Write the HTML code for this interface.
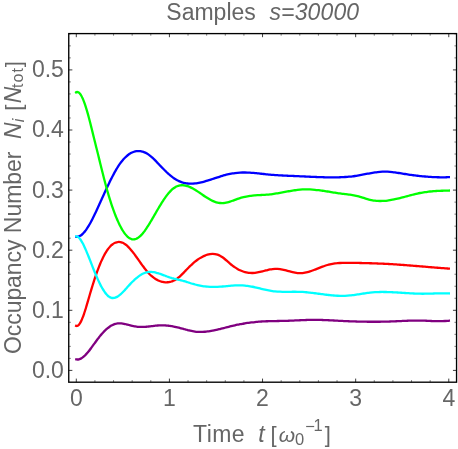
<!DOCTYPE html>
<html><head><meta charset="utf-8"><title>Samples s=30000</title>
<style>
html,body{margin:0;padding:0;background:#fff;}
svg{display:block;}
#txt{filter:grayscale(1);}
text{font-family:"Liberation Sans",sans-serif;fill:#666;white-space:pre;}
.it{font-style:italic;}
</style></head><body>
<svg width="458" height="449" viewBox="0 0 458 449">
<rect width="458" height="449" fill="#fff"/>
<g>
<path d="M75.20 236.51C75.41 236.56 76.03 236.74 76.45 236.78C76.87 236.82 77.28 236.80 77.70 236.74C78.12 236.68 78.53 236.57 78.95 236.42C79.37 236.27 79.78 236.06 80.20 235.82C80.62 235.58 81.03 235.29 81.45 234.97C81.87 234.65 82.28 234.28 82.70 233.88C83.12 233.48 83.53 233.03 83.95 232.56C84.37 232.09 84.78 231.58 85.20 231.04C85.62 230.50 86.03 229.92 86.45 229.32C86.87 228.72 87.28 228.09 87.70 227.43C88.12 226.78 88.53 226.09 88.95 225.39C89.37 224.68 89.78 223.95 90.20 223.20C90.62 222.45 91.03 221.67 91.45 220.88C91.87 220.09 92.28 219.28 92.70 218.45C93.12 217.62 93.53 216.77 93.95 215.92C94.37 215.06 94.78 214.20 95.20 213.32C95.62 212.44 96.03 211.56 96.45 210.66C96.87 209.76 97.28 208.86 97.70 207.95C98.12 207.04 98.53 206.13 98.95 205.21C99.37 204.29 99.78 203.37 100.20 202.45C100.62 201.53 101.03 200.61 101.45 199.69C101.87 198.77 102.28 197.84 102.70 196.92C103.12 196.00 103.53 195.08 103.95 194.17C104.37 193.26 104.78 192.35 105.20 191.44C105.62 190.53 106.03 189.62 106.45 188.73C106.87 187.83 107.28 186.95 107.70 186.07C108.12 185.19 108.53 184.31 108.95 183.45C109.37 182.58 109.78 181.72 110.20 180.88C110.62 180.03 111.03 179.20 111.45 178.38C111.87 177.56 112.28 176.75 112.70 175.96C113.12 175.17 113.53 174.38 113.95 173.61C114.37 172.84 114.78 172.10 115.20 171.36C115.62 170.62 116.03 169.90 116.45 169.20C116.87 168.50 117.28 167.82 117.70 167.16C118.12 166.50 118.53 165.85 118.95 165.23C119.37 164.61 119.78 164.01 120.20 163.43C120.62 162.85 121.03 162.30 121.45 161.76C121.87 161.22 122.28 160.71 122.70 160.21C123.12 159.72 123.53 159.24 123.95 158.79C124.37 158.34 124.78 157.90 125.20 157.49C125.62 157.08 126.03 156.68 126.45 156.31C126.87 155.94 127.28 155.58 127.70 155.25C128.12 154.92 128.53 154.61 128.95 154.32C129.37 154.03 129.78 153.75 130.20 153.50C130.62 153.25 131.03 153.01 131.45 152.80C131.87 152.59 132.28 152.39 132.70 152.22C133.12 152.05 133.53 151.89 133.95 151.76C134.37 151.62 134.78 151.51 135.20 151.41C135.62 151.31 136.03 151.23 136.45 151.17C136.87 151.11 137.28 151.07 137.70 151.05C138.12 151.03 138.53 151.03 138.95 151.04C139.37 151.05 139.78 151.09 140.20 151.14C140.62 151.19 141.03 151.26 141.45 151.35C141.87 151.44 142.28 151.54 142.70 151.67C143.12 151.79 143.53 151.94 143.95 152.10C144.37 152.26 144.78 152.44 145.20 152.63C145.62 152.82 146.03 153.03 146.45 153.26C146.87 153.49 147.28 153.74 147.70 154.00C148.12 154.26 148.53 154.54 148.95 154.84C149.37 155.14 149.78 155.45 150.20 155.78C150.62 156.11 151.03 156.45 151.45 156.81C151.87 157.17 152.28 157.55 152.70 157.94C153.12 158.33 153.53 158.74 153.95 159.15C154.37 159.56 154.78 159.98 155.20 160.41C155.62 160.84 156.03 161.27 156.45 161.71C156.87 162.15 157.28 162.60 157.70 163.04C158.12 163.48 158.53 163.92 158.95 164.36C159.37 164.80 159.78 165.23 160.20 165.67C160.62 166.11 161.03 166.55 161.45 166.98C161.87 167.41 162.28 167.83 162.70 168.26C163.12 168.69 163.53 169.11 163.95 169.53C164.37 169.95 164.78 170.35 165.20 170.76C165.62 171.16 166.03 171.56 166.45 171.96C166.87 172.36 167.28 172.75 167.70 173.13C168.12 173.51 168.53 173.88 168.95 174.25C169.37 174.62 169.78 174.98 170.20 175.33C170.62 175.68 171.03 176.02 171.45 176.35C171.87 176.68 172.28 177.00 172.70 177.31C173.12 177.62 173.53 177.92 173.95 178.21C174.37 178.50 174.78 178.78 175.20 179.05C175.62 179.32 176.03 179.57 176.45 179.81C176.87 180.05 177.28 180.28 177.70 180.49C178.12 180.71 178.53 180.91 178.95 181.10C179.37 181.29 179.78 181.47 180.20 181.64C180.62 181.81 181.03 181.97 181.45 182.11C181.87 182.26 182.28 182.39 182.70 182.51C183.12 182.63 183.53 182.75 183.95 182.85C184.37 182.95 184.78 183.04 185.20 183.12C185.62 183.20 186.03 183.28 186.45 183.34C186.87 183.40 187.28 183.45 187.70 183.50C188.12 183.55 188.57 183.58 188.95 183.61C189.33 183.64 189.41 183.65 190.00 183.66C190.59 183.67 191.67 183.68 192.50 183.65C193.33 183.62 194.17 183.55 195.00 183.46C195.83 183.37 196.67 183.25 197.50 183.11C198.33 182.97 199.17 182.81 200.00 182.63C200.83 182.45 201.67 182.25 202.50 182.04C203.33 181.83 204.17 181.59 205.00 181.35C205.83 181.11 206.67 180.86 207.50 180.60C208.33 180.34 209.17 180.07 210.00 179.80C210.83 179.53 211.67 179.25 212.50 178.97C213.33 178.69 214.17 178.41 215.00 178.13C215.83 177.85 216.67 177.58 217.50 177.31C218.33 177.04 219.17 176.78 220.00 176.53C220.83 176.28 221.67 176.03 222.50 175.79C223.33 175.55 224.17 175.33 225.00 175.11C225.83 174.89 226.67 174.68 227.50 174.49C228.33 174.30 229.17 174.12 230.00 173.95C230.83 173.78 231.67 173.62 232.50 173.48C233.33 173.34 234.17 173.21 235.00 173.10C235.83 172.99 236.67 172.88 237.50 172.80C238.33 172.72 239.17 172.66 240.00 172.61C240.83 172.56 241.67 172.53 242.50 172.51C243.33 172.49 244.17 172.49 245.00 172.50C245.83 172.51 246.67 172.53 247.50 172.56C248.33 172.59 249.17 172.64 250.00 172.69C250.83 172.74 251.67 172.80 252.50 172.86C253.33 172.93 254.17 173.00 255.00 173.08C255.83 173.16 256.67 173.24 257.50 173.33C258.33 173.42 259.17 173.51 260.00 173.60C260.83 173.69 261.67 173.79 262.50 173.88C263.33 173.97 264.17 174.06 265.00 174.15C265.83 174.24 266.67 174.33 267.50 174.41C268.33 174.49 269.17 174.57 270.00 174.65C270.83 174.73 271.67 174.79 272.50 174.86C273.33 174.93 274.17 174.99 275.00 175.05C275.83 175.11 276.67 175.17 277.50 175.22C278.33 175.27 279.17 175.31 280.00 175.36C280.83 175.41 281.67 175.46 282.50 175.50C283.33 175.54 284.17 175.58 285.00 175.62C285.83 175.66 286.67 175.69 287.50 175.73C288.33 175.77 289.17 175.81 290.00 175.84C290.83 175.88 291.67 175.91 292.50 175.94C293.33 175.97 294.17 176.01 295.00 176.05C295.83 176.09 296.67 176.12 297.50 176.16C298.33 176.20 299.17 176.24 300.00 176.28C300.83 176.32 301.67 176.36 302.50 176.40C303.33 176.44 304.17 176.47 305.00 176.51C305.83 176.55 306.67 176.59 307.50 176.63C308.33 176.67 309.17 176.71 310.00 176.75C310.83 176.79 311.67 176.83 312.50 176.86C313.33 176.90 314.17 176.93 315.00 176.96C315.83 176.99 316.67 177.03 317.50 177.06C318.33 177.09 319.17 177.12 320.00 177.15C320.83 177.18 321.67 177.20 322.50 177.22C323.33 177.24 324.17 177.26 325.00 177.28C325.83 177.30 326.67 177.32 327.50 177.33C328.33 177.34 329.17 177.35 330.00 177.36C330.83 177.37 331.67 177.37 332.50 177.37C333.33 177.37 334.17 177.36 335.00 177.35C335.83 177.34 336.67 177.34 337.50 177.32C338.33 177.30 339.17 177.28 340.00 177.25C340.83 177.22 341.67 177.19 342.50 177.15C343.33 177.11 344.17 177.06 345.00 177.01C345.83 176.96 346.67 176.90 347.50 176.83C348.33 176.76 349.17 176.68 350.00 176.60C350.83 176.52 351.67 176.43 352.50 176.33C353.33 176.23 354.17 176.12 355.00 176.00C355.83 175.88 356.67 175.75 357.50 175.61C358.33 175.47 359.17 175.32 360.00 175.17C360.83 175.02 361.67 174.86 362.50 174.70C363.33 174.54 364.17 174.38 365.00 174.22C365.83 174.06 366.67 173.89 367.50 173.73C368.33 173.57 369.17 173.41 370.00 173.26C370.83 173.11 371.67 172.96 372.50 172.82C373.33 172.68 374.17 172.55 375.00 172.43C375.83 172.31 376.67 172.19 377.50 172.09C378.33 171.99 379.17 171.91 380.00 171.84C380.83 171.77 381.67 171.71 382.50 171.67C383.33 171.63 384.17 171.62 385.00 171.62C385.83 171.62 386.67 171.64 387.50 171.68C388.33 171.72 389.17 171.78 390.00 171.85C390.83 171.92 391.67 172.00 392.50 172.10C393.33 172.19 394.17 172.30 395.00 172.42C395.83 172.53 396.67 172.66 397.50 172.79C398.33 172.92 399.17 173.06 400.00 173.19C400.83 173.32 401.67 173.46 402.50 173.60C403.33 173.74 404.17 173.88 405.00 174.01C405.83 174.14 406.67 174.28 407.50 174.41C408.33 174.54 409.17 174.66 410.00 174.78C410.83 174.90 411.67 175.02 412.50 175.13C413.33 175.24 414.17 175.36 415.00 175.46C415.83 175.56 416.67 175.66 417.50 175.76C418.33 175.86 419.17 175.95 420.00 176.04C420.83 176.13 421.67 176.22 422.50 176.30C423.33 176.38 424.17 176.45 425.00 176.52C425.83 176.59 426.67 176.66 427.50 176.72C428.33 176.78 429.17 176.84 430.00 176.89C430.83 176.94 431.67 177.00 432.50 177.04C433.33 177.08 434.17 177.12 435.00 177.15C435.83 177.18 436.67 177.21 437.50 177.23C438.33 177.25 439.17 177.27 440.00 177.28C440.83 177.29 441.67 177.30 442.50 177.30C443.33 177.30 444.17 177.29 445.00 177.28C445.83 177.27 446.67 177.24 447.50 177.22C448.33 177.20 449.58 177.15 450.00 177.14" fill="none" stroke="#0000ff" stroke-width="2.3" stroke-linecap="butt" stroke-linejoin="round"/>
<path d="M75.20 325.29C75.41 325.40 76.03 325.89 76.45 325.96C76.87 326.03 77.28 325.94 77.70 325.72C78.12 325.50 78.53 325.13 78.95 324.65C79.37 324.17 79.78 323.56 80.20 322.86C80.62 322.16 81.03 321.32 81.45 320.42C81.87 319.52 82.28 318.51 82.70 317.44C83.12 316.37 83.53 315.21 83.95 314.01C84.37 312.81 84.78 311.53 85.20 310.22C85.62 308.91 86.03 307.54 86.45 306.16C86.87 304.78 87.28 303.35 87.70 301.92C88.12 300.50 88.53 299.05 88.95 297.61C89.37 296.17 89.78 294.72 90.20 293.30C90.62 291.88 91.03 290.47 91.45 289.09C91.87 287.70 92.28 286.33 92.70 284.99C93.12 283.65 93.53 282.33 93.95 281.04C94.37 279.75 94.78 278.47 95.20 277.23C95.62 275.99 96.03 274.77 96.45 273.59C96.87 272.40 97.28 271.25 97.70 270.12C98.12 269.00 98.53 267.90 98.95 266.84C99.37 265.78 99.78 264.74 100.20 263.74C100.62 262.74 101.03 261.78 101.45 260.85C101.87 259.92 102.28 259.02 102.70 258.16C103.12 257.30 103.53 256.47 103.95 255.68C104.37 254.89 104.78 254.13 105.20 253.41C105.62 252.69 106.03 252.01 106.45 251.36C106.87 250.71 107.28 250.10 107.70 249.52C108.12 248.94 108.53 248.39 108.95 247.88C109.37 247.37 109.78 246.89 110.20 246.45C110.62 246.01 111.03 245.60 111.45 245.23C111.87 244.85 112.28 244.51 112.70 244.20C113.12 243.89 113.53 243.62 113.95 243.37C114.37 243.12 114.78 242.91 115.20 242.73C115.62 242.55 116.03 242.40 116.45 242.28C116.87 242.16 117.28 242.08 117.70 242.02C118.12 241.97 118.53 241.94 118.95 241.95C119.37 241.96 119.78 242.00 120.20 242.06C120.62 242.12 121.03 242.22 121.45 242.34C121.87 242.47 122.28 242.63 122.70 242.81C123.12 242.99 123.53 243.20 123.95 243.44C124.37 243.68 124.78 243.95 125.20 244.25C125.62 244.55 126.03 244.87 126.45 245.22C126.87 245.57 127.28 245.94 127.70 246.34C128.12 246.74 128.53 247.16 128.95 247.59C129.37 248.03 129.78 248.48 130.20 248.95C130.62 249.42 131.03 249.91 131.45 250.42C131.87 250.92 132.28 251.45 132.70 251.98C133.12 252.51 133.53 253.06 133.95 253.61C134.37 254.16 134.78 254.72 135.20 255.29C135.62 255.86 136.03 256.45 136.45 257.03C136.87 257.61 137.28 258.20 137.70 258.79C138.12 259.38 138.53 259.97 138.95 260.56C139.37 261.15 139.78 261.74 140.20 262.33C140.62 262.92 141.03 263.51 141.45 264.09C141.87 264.67 142.28 265.24 142.70 265.81C143.12 266.38 143.53 266.94 143.95 267.49C144.37 268.04 144.78 268.58 145.20 269.11C145.62 269.64 146.03 270.16 146.45 270.66C146.87 271.16 147.28 271.64 147.70 272.11C148.12 272.58 148.53 273.04 148.95 273.47C149.37 273.91 149.78 274.32 150.20 274.72C150.62 275.12 151.03 275.51 151.45 275.88C151.87 276.25 152.28 276.60 152.70 276.94C153.12 277.28 153.53 277.60 153.95 277.90C154.37 278.20 154.78 278.49 155.20 278.76C155.62 279.03 156.03 279.29 156.45 279.53C156.87 279.77 157.28 280.00 157.70 280.21C158.12 280.42 158.53 280.60 158.95 280.78C159.37 280.96 159.78 281.12 160.20 281.27C160.62 281.42 161.03 281.55 161.45 281.66C161.87 281.78 162.28 281.88 162.70 281.96C163.12 282.04 163.53 282.12 163.95 282.17C164.37 282.22 164.78 282.26 165.20 282.28C165.62 282.30 166.03 282.31 166.45 282.31C166.87 282.31 167.28 282.29 167.70 282.25C168.12 282.21 168.53 282.16 168.95 282.09C169.37 282.02 169.78 281.95 170.20 281.85C170.62 281.75 171.03 281.65 171.45 281.52C171.87 281.39 172.28 281.25 172.70 281.08C173.12 280.91 173.53 280.73 173.95 280.53C174.37 280.33 174.78 280.12 175.20 279.88C175.62 279.64 176.03 279.39 176.45 279.11C176.87 278.83 177.28 278.54 177.70 278.22C178.12 277.90 178.53 277.56 178.95 277.21C179.37 276.86 179.78 276.49 180.20 276.11C180.62 275.73 181.03 275.33 181.45 274.92C181.87 274.51 182.28 274.10 182.70 273.68C183.12 273.26 183.53 272.83 183.95 272.40C184.37 271.97 184.78 271.53 185.20 271.09C185.62 270.65 186.03 270.21 186.45 269.78C186.87 269.34 187.28 268.91 187.70 268.48C188.12 268.05 188.57 267.59 188.95 267.21C189.33 266.82 189.41 266.73 190.00 266.17C190.59 265.61 191.67 264.58 192.50 263.84C193.33 263.10 194.17 262.38 195.00 261.71C195.83 261.04 196.67 260.40 197.50 259.80C198.33 259.20 199.17 258.64 200.00 258.13C200.83 257.62 201.67 257.14 202.50 256.71C203.33 256.28 204.17 255.90 205.00 255.57C205.83 255.24 206.67 254.95 207.50 254.72C208.33 254.49 209.17 254.31 210.00 254.18C210.83 254.06 211.67 253.98 212.50 253.97C213.33 253.96 214.17 254.01 215.00 254.13C215.83 254.25 216.67 254.43 217.50 254.70C218.33 254.97 219.17 255.32 220.00 255.75C220.83 256.18 221.67 256.72 222.50 257.30C223.33 257.88 224.17 258.56 225.00 259.24C225.83 259.92 226.67 260.66 227.50 261.38C228.33 262.10 229.17 262.84 230.00 263.54C230.83 264.24 231.67 264.93 232.50 265.56C233.33 266.19 234.17 266.78 235.00 267.34C235.83 267.89 236.67 268.41 237.50 268.89C238.33 269.37 239.17 269.80 240.00 270.19C240.83 270.58 241.67 270.94 242.50 271.25C243.33 271.56 244.17 271.83 245.00 272.06C245.83 272.29 246.67 272.48 247.50 272.63C248.33 272.78 249.17 272.88 250.00 272.94C250.83 273.00 251.67 273.03 252.50 273.01C253.33 272.99 254.17 272.92 255.00 272.83C255.83 272.74 256.67 272.61 257.50 272.46C258.33 272.31 259.17 272.12 260.00 271.93C260.83 271.74 261.67 271.53 262.50 271.32C263.33 271.11 264.17 270.88 265.00 270.67C265.83 270.46 266.67 270.24 267.50 270.04C268.33 269.84 269.17 269.64 270.00 269.48C270.83 269.32 271.67 269.17 272.50 269.06C273.33 268.95 274.17 268.85 275.00 268.81C275.83 268.77 276.67 268.77 277.50 268.81C278.33 268.85 279.17 268.94 280.00 269.06C280.83 269.18 281.67 269.34 282.50 269.51C283.33 269.68 284.17 269.89 285.00 270.10C285.83 270.31 286.67 270.54 287.50 270.77C288.33 271.00 289.17 271.23 290.00 271.45C290.83 271.67 291.67 271.90 292.50 272.10C293.33 272.30 294.17 272.49 295.00 272.64C295.83 272.79 296.67 272.93 297.50 273.02C298.33 273.11 299.17 273.17 300.00 273.18C300.83 273.19 301.67 273.14 302.50 273.06C303.33 272.98 304.17 272.86 305.00 272.70C305.83 272.54 306.67 272.35 307.50 272.13C308.33 271.91 309.17 271.66 310.00 271.40C310.83 271.13 311.67 270.84 312.50 270.54C313.33 270.24 314.17 269.91 315.00 269.59C315.83 269.27 316.67 268.93 317.50 268.60C318.33 268.27 319.17 267.93 320.00 267.60C320.83 267.27 321.67 266.95 322.50 266.64C323.33 266.33 324.17 266.03 325.00 265.76C325.83 265.49 326.67 265.22 327.50 264.99C328.33 264.76 329.17 264.55 330.00 264.36C330.83 264.17 331.67 264.00 332.50 263.85C333.33 263.70 334.17 263.58 335.00 263.47C335.83 263.36 336.67 263.26 337.50 263.18C338.33 263.10 339.17 263.03 340.00 262.98C340.83 262.93 341.67 262.89 342.50 262.86C343.33 262.83 344.17 262.81 345.00 262.80C345.83 262.79 346.67 262.78 347.50 262.78C348.33 262.78 349.17 262.79 350.00 262.80C350.83 262.81 351.67 262.82 352.50 262.84C353.33 262.85 354.17 262.88 355.00 262.89C355.83 262.90 356.67 262.91 357.50 262.93C358.33 262.95 359.17 262.97 360.00 262.99C360.83 263.01 361.67 263.02 362.50 263.04C363.33 263.06 364.17 263.08 365.00 263.10C365.83 263.12 366.67 263.14 367.50 263.16C368.33 263.18 369.17 263.21 370.00 263.23C370.83 263.25 371.67 263.28 372.50 263.30C373.33 263.32 374.17 263.35 375.00 263.38C375.83 263.41 376.67 263.45 377.50 263.48C378.33 263.51 379.17 263.54 380.00 263.57C380.83 263.60 381.67 263.64 382.50 263.68C383.33 263.72 384.17 263.76 385.00 263.80C385.83 263.84 386.67 263.88 387.50 263.93C388.33 263.98 389.17 264.02 390.00 264.07C390.83 264.12 391.67 264.17 392.50 264.22C393.33 264.27 394.17 264.32 395.00 264.38C395.83 264.44 396.67 264.49 397.50 264.55C398.33 264.61 399.17 264.67 400.00 264.73C400.83 264.79 401.67 264.85 402.50 264.91C403.33 264.97 404.17 265.04 405.00 265.10C405.83 265.16 406.67 265.23 407.50 265.29C408.33 265.36 409.17 265.42 410.00 265.49C410.83 265.56 411.67 265.62 412.50 265.69C413.33 265.76 414.17 265.82 415.00 265.89C415.83 265.96 416.67 266.03 417.50 266.10C418.33 266.17 419.17 266.24 420.00 266.31C420.83 266.38 421.67 266.45 422.50 266.52C423.33 266.59 424.17 266.65 425.00 266.72C425.83 266.79 426.67 266.86 427.50 266.93C428.33 267.00 429.17 267.07 430.00 267.14C430.83 267.21 431.67 267.27 432.50 267.34C433.33 267.41 434.17 267.47 435.00 267.54C435.83 267.61 436.67 267.68 437.50 267.74C438.33 267.81 439.17 267.87 440.00 267.93C440.83 267.99 441.67 268.06 442.50 268.12C443.33 268.18 444.17 268.24 445.00 268.30C445.83 268.36 446.67 268.42 447.50 268.48C448.33 268.54 449.58 268.62 450.00 268.65" fill="none" stroke="#ff0000" stroke-width="2.3" stroke-linecap="butt" stroke-linejoin="round"/>
<path d="M75.20 93.07C75.41 92.92 76.03 92.33 76.45 92.16C76.87 91.99 77.28 91.96 77.70 92.05C78.12 92.14 78.53 92.36 78.95 92.69C79.37 93.02 79.78 93.47 80.20 94.02C80.62 94.57 81.03 95.23 81.45 95.98C81.87 96.73 82.28 97.59 82.70 98.52C83.12 99.45 83.53 100.48 83.95 101.58C84.37 102.68 84.78 103.87 85.20 105.12C85.62 106.37 86.03 107.69 86.45 109.07C86.87 110.45 87.28 111.89 87.70 113.38C88.12 114.87 88.53 116.42 88.95 117.99C89.37 119.56 89.78 121.18 90.20 122.82C90.62 124.45 91.03 126.13 91.45 127.80C91.87 129.47 92.28 131.16 92.70 132.85C93.12 134.53 93.53 136.22 93.95 137.91C94.37 139.60 94.78 141.28 95.20 142.97C95.62 144.66 96.03 146.34 96.45 148.02C96.87 149.70 97.28 151.39 97.70 153.07C98.12 154.75 98.53 156.43 98.95 158.11C99.37 159.79 99.78 161.48 100.20 163.16C100.62 164.84 101.03 166.52 101.45 168.20C101.87 169.88 102.28 171.56 102.70 173.23C103.12 174.89 103.53 176.56 103.95 178.19C104.37 179.82 104.78 181.44 105.20 183.03C105.62 184.62 106.03 186.18 106.45 187.70C106.87 189.22 107.28 190.71 107.70 192.16C108.12 193.61 108.53 195.02 108.95 196.40C109.37 197.78 109.78 199.12 110.20 200.44C110.62 201.75 111.03 203.04 111.45 204.29C111.87 205.54 112.28 206.75 112.70 207.94C113.12 209.13 113.53 210.28 113.95 211.41C114.37 212.54 114.78 213.64 115.20 214.71C115.62 215.78 116.03 216.81 116.45 217.82C116.87 218.82 117.28 219.80 117.70 220.74C118.12 221.68 118.53 222.60 118.95 223.48C119.37 224.36 119.78 225.21 120.20 226.02C120.62 226.83 121.03 227.61 121.45 228.35C121.87 229.09 122.28 229.80 122.70 230.48C123.12 231.16 123.53 231.80 123.95 232.40C124.37 233.00 124.78 233.56 125.20 234.09C125.62 234.62 126.03 235.12 126.45 235.57C126.87 236.02 127.28 236.43 127.70 236.81C128.12 237.19 128.53 237.53 128.95 237.83C129.37 238.13 129.78 238.38 130.20 238.60C130.62 238.82 131.03 239.00 131.45 239.13C131.87 239.26 132.28 239.36 132.70 239.41C133.12 239.46 133.53 239.47 133.95 239.44C134.37 239.41 134.78 239.33 135.20 239.22C135.62 239.11 136.03 238.95 136.45 238.76C136.87 238.57 137.28 238.33 137.70 238.07C138.12 237.81 138.53 237.52 138.95 237.19C139.37 236.86 139.78 236.50 140.20 236.11C140.62 235.72 141.03 235.29 141.45 234.85C141.87 234.41 142.28 233.94 142.70 233.44C143.12 232.94 143.53 232.42 143.95 231.88C144.37 231.34 144.78 230.77 145.20 230.19C145.62 229.61 146.03 229.01 146.45 228.39C146.87 227.77 147.28 227.14 147.70 226.49C148.12 225.84 148.53 225.17 148.95 224.50C149.37 223.83 149.78 223.14 150.20 222.45C150.62 221.76 151.03 221.05 151.45 220.34C151.87 219.63 152.28 218.91 152.70 218.19C153.12 217.47 153.53 216.75 153.95 216.03C154.37 215.31 154.78 214.57 155.20 213.85C155.62 213.12 156.03 212.40 156.45 211.68C156.87 210.96 157.28 210.24 157.70 209.53C158.12 208.82 158.53 208.12 158.95 207.42C159.37 206.72 159.78 206.03 160.20 205.34C160.62 204.66 161.03 203.97 161.45 203.31C161.87 202.65 162.28 201.99 162.70 201.35C163.12 200.71 163.53 200.07 163.95 199.45C164.37 198.83 164.78 198.22 165.20 197.63C165.62 197.04 166.03 196.47 166.45 195.91C166.87 195.35 167.28 194.80 167.70 194.28C168.12 193.76 168.53 193.25 168.95 192.77C169.37 192.29 169.78 191.81 170.20 191.37C170.62 190.93 171.03 190.50 171.45 190.10C171.87 189.70 172.28 189.33 172.70 188.98C173.12 188.63 173.53 188.30 173.95 188.00C174.37 187.70 174.78 187.44 175.20 187.19C175.62 186.94 176.03 186.72 176.45 186.52C176.87 186.32 177.28 186.15 177.70 186.00C178.12 185.85 178.53 185.72 178.95 185.62C179.37 185.52 179.78 185.43 180.20 185.37C180.62 185.31 181.03 185.26 181.45 185.24C181.87 185.22 182.28 185.21 182.70 185.23C183.12 185.25 183.53 185.28 183.95 185.33C184.37 185.38 184.78 185.44 185.20 185.52C185.62 185.60 186.03 185.71 186.45 185.82C186.87 185.93 187.28 186.06 187.70 186.20C188.12 186.34 188.57 186.51 188.95 186.66C189.33 186.81 189.41 186.82 190.00 187.10C190.59 187.38 191.67 187.89 192.50 188.34C193.33 188.79 194.17 189.28 195.00 189.78C195.83 190.28 196.67 190.82 197.50 191.37C198.33 191.92 199.17 192.49 200.00 193.06C200.83 193.63 201.67 194.21 202.50 194.78C203.33 195.35 204.17 195.93 205.00 196.48C205.83 197.03 206.67 197.57 207.50 198.09C208.33 198.61 209.17 199.11 210.00 199.57C210.83 200.03 211.67 200.47 212.50 200.85C213.33 201.23 214.17 201.58 215.00 201.87C215.83 202.16 216.67 202.40 217.50 202.59C218.33 202.78 219.17 202.91 220.00 202.99C220.83 203.07 221.67 203.11 222.50 203.09C223.33 203.07 224.17 203.01 225.00 202.90C225.83 202.79 226.67 202.61 227.50 202.41C228.33 202.21 229.17 201.95 230.00 201.68C230.83 201.41 231.67 201.10 232.50 200.79C233.33 200.48 234.17 200.15 235.00 199.83C235.83 199.51 236.67 199.19 237.50 198.89C238.33 198.59 239.17 198.32 240.00 198.06C240.83 197.80 241.67 197.56 242.50 197.35C243.33 197.13 244.17 196.95 245.00 196.77C245.83 196.59 246.67 196.43 247.50 196.29C248.33 196.15 249.17 196.02 250.00 195.91C250.83 195.80 251.67 195.71 252.50 195.62C253.33 195.53 254.17 195.47 255.00 195.40C255.83 195.33 256.67 195.27 257.50 195.22C258.33 195.17 259.17 195.13 260.00 195.08C260.83 195.03 261.67 194.99 262.50 194.94C263.33 194.89 264.17 194.84 265.00 194.78C265.83 194.72 266.67 194.66 267.50 194.59C268.33 194.52 269.17 194.43 270.00 194.34C270.83 194.25 271.67 194.14 272.50 194.03C273.33 193.92 274.17 193.80 275.00 193.67C275.83 193.54 276.67 193.40 277.50 193.26C278.33 193.12 279.17 192.98 280.00 192.83C280.83 192.68 281.67 192.53 282.50 192.38C283.33 192.23 284.17 192.07 285.00 191.92C285.83 191.77 286.67 191.61 287.50 191.46C288.33 191.31 289.17 191.16 290.00 191.02C290.83 190.88 291.67 190.74 292.50 190.61C293.33 190.48 294.17 190.36 295.00 190.24C295.83 190.12 296.67 190.01 297.50 189.91C298.33 189.81 299.17 189.72 300.00 189.65C300.83 189.58 301.67 189.52 302.50 189.47C303.33 189.42 304.17 189.39 305.00 189.37C305.83 189.35 306.67 189.35 307.50 189.36C308.33 189.37 309.17 189.39 310.00 189.43C310.83 189.47 311.67 189.52 312.50 189.58C313.33 189.64 314.17 189.72 315.00 189.80C315.83 189.88 316.67 189.97 317.50 190.07C318.33 190.17 319.17 190.27 320.00 190.38C320.83 190.49 321.67 190.62 322.50 190.74C323.33 190.86 324.17 190.99 325.00 191.12C325.83 191.25 326.67 191.38 327.50 191.51C328.33 191.64 329.17 191.78 330.00 191.92C330.83 192.06 331.67 192.20 332.50 192.33C333.33 192.47 334.17 192.60 335.00 192.73C335.83 192.86 336.67 192.99 337.50 193.11C338.33 193.23 339.17 193.35 340.00 193.46C340.83 193.57 341.67 193.68 342.50 193.78C343.33 193.88 344.17 193.98 345.00 194.08C345.83 194.18 346.67 194.27 347.50 194.38C348.33 194.49 349.17 194.60 350.00 194.72C350.83 194.84 351.67 194.97 352.50 195.11C353.33 195.25 354.17 195.40 355.00 195.57C355.83 195.74 356.67 195.93 357.50 196.14C358.33 196.35 359.17 196.58 360.00 196.82C360.83 197.06 361.67 197.32 362.50 197.58C363.33 197.84 364.17 198.10 365.00 198.36C365.83 198.62 366.67 198.88 367.50 199.12C368.33 199.36 369.17 199.60 370.00 199.80C370.83 200.00 371.67 200.19 372.50 200.34C373.33 200.49 374.17 200.61 375.00 200.71C375.83 200.81 376.67 200.89 377.50 200.94C378.33 200.99 379.17 201.02 380.00 201.02C380.83 201.03 381.67 201.00 382.50 200.97C383.33 200.94 384.17 200.88 385.00 200.81C385.83 200.74 386.67 200.64 387.50 200.54C388.33 200.44 389.17 200.31 390.00 200.18C390.83 200.05 391.67 199.90 392.50 199.74C393.33 199.58 394.17 199.42 395.00 199.24C395.83 199.06 396.67 198.87 397.50 198.67C398.33 198.47 399.17 198.27 400.00 198.06C400.83 197.85 401.67 197.64 402.50 197.42C403.33 197.20 404.17 196.98 405.00 196.76C405.83 196.54 406.67 196.31 407.50 196.08C408.33 195.86 409.17 195.63 410.00 195.41C410.83 195.19 411.67 194.97 412.50 194.76C413.33 194.55 414.17 194.33 415.00 194.13C415.83 193.93 416.67 193.73 417.50 193.54C418.33 193.35 419.17 193.17 420.00 193.00C420.83 192.83 421.67 192.67 422.50 192.52C423.33 192.37 424.17 192.24 425.00 192.12C425.83 192.00 426.67 191.88 427.50 191.78C428.33 191.68 429.17 191.59 430.00 191.50C430.83 191.41 431.67 191.34 432.50 191.27C433.33 191.20 434.17 191.14 435.00 191.08C435.83 191.03 436.67 190.98 437.50 190.94C438.33 190.90 439.17 190.85 440.00 190.82C440.83 190.78 441.67 190.76 442.50 190.73C443.33 190.70 444.17 190.68 445.00 190.65C445.83 190.62 446.67 190.59 447.50 190.57C448.33 190.54 449.58 190.51 450.00 190.50" fill="none" stroke="#00ff00" stroke-width="2.3" stroke-linecap="butt" stroke-linejoin="round"/>
<path d="M75.20 236.53C75.41 236.50 76.03 236.33 76.45 236.38C76.87 236.43 77.28 236.58 77.70 236.81C78.12 237.04 78.53 237.37 78.95 237.77C79.37 238.17 79.78 238.66 80.20 239.21C80.62 239.76 81.03 240.38 81.45 241.05C81.87 241.72 82.28 242.46 82.70 243.24C83.12 244.02 83.53 244.85 83.95 245.72C84.37 246.59 84.78 247.50 85.20 248.44C85.62 249.38 86.03 250.35 86.45 251.34C86.87 252.33 87.28 253.34 87.70 254.37C88.12 255.40 88.53 256.44 88.95 257.49C89.37 258.54 89.78 259.61 90.20 260.68C90.62 261.75 91.03 262.83 91.45 263.90C91.87 264.97 92.28 266.04 92.70 267.10C93.12 268.16 93.53 269.21 93.95 270.25C94.37 271.29 94.78 272.31 95.20 273.32C95.62 274.32 96.03 275.31 96.45 276.28C96.87 277.25 97.28 278.19 97.70 279.12C98.12 280.05 98.53 280.95 98.95 281.83C99.37 282.71 99.78 283.56 100.20 284.38C100.62 285.20 101.03 286.00 101.45 286.76C101.87 287.52 102.28 288.25 102.70 288.95C103.12 289.65 103.53 290.32 103.95 290.95C104.37 291.58 104.78 292.17 105.20 292.72C105.62 293.27 106.03 293.80 106.45 294.27C106.87 294.74 107.28 295.17 107.70 295.56C108.12 295.95 108.53 296.30 108.95 296.60C109.37 296.90 109.78 297.15 110.20 297.35C110.62 297.55 111.03 297.70 111.45 297.81C111.87 297.92 112.28 297.97 112.70 297.99C113.12 298.01 113.53 297.99 113.95 297.93C114.37 297.87 114.78 297.76 115.20 297.63C115.62 297.50 116.03 297.33 116.45 297.13C116.87 296.93 117.28 296.70 117.70 296.44C118.12 296.18 118.53 295.89 118.95 295.58C119.37 295.27 119.78 294.93 120.20 294.58C120.62 294.23 121.03 293.86 121.45 293.47C121.87 293.08 122.28 292.67 122.70 292.25C123.12 291.83 123.53 291.40 123.95 290.96C124.37 290.52 124.78 290.06 125.20 289.61C125.62 289.16 126.03 288.69 126.45 288.23C126.87 287.77 127.28 287.30 127.70 286.84C128.12 286.38 128.53 285.91 128.95 285.46C129.37 285.00 129.78 284.55 130.20 284.11C130.62 283.67 131.03 283.23 131.45 282.80C131.87 282.37 132.28 281.95 132.70 281.54C133.12 281.13 133.53 280.72 133.95 280.33C134.37 279.94 134.78 279.55 135.20 279.18C135.62 278.81 136.03 278.44 136.45 278.09C136.87 277.74 137.28 277.40 137.70 277.07C138.12 276.74 138.53 276.43 138.95 276.13C139.37 275.83 139.78 275.54 140.20 275.27C140.62 275.00 141.03 274.73 141.45 274.49C141.87 274.25 142.28 274.02 142.70 273.81C143.12 273.60 143.53 273.41 143.95 273.23C144.37 273.06 144.78 272.90 145.20 272.76C145.62 272.62 146.03 272.49 146.45 272.39C146.87 272.29 147.28 272.21 147.70 272.14C148.12 272.07 148.53 272.02 148.95 271.98C149.37 271.94 149.78 271.93 150.20 271.92C150.62 271.92 151.03 271.93 151.45 271.95C151.87 271.97 152.28 272.00 152.70 272.05C153.12 272.10 153.53 272.16 153.95 272.23C154.37 272.30 154.78 272.38 155.20 272.47C155.62 272.56 156.03 272.66 156.45 272.77C156.87 272.88 157.28 272.99 157.70 273.11C158.12 273.23 158.53 273.37 158.95 273.50C159.37 273.63 159.78 273.78 160.20 273.92C160.62 274.06 161.03 274.22 161.45 274.37C161.87 274.52 162.28 274.67 162.70 274.83C163.12 274.99 163.53 275.15 163.95 275.31C164.37 275.47 164.78 275.63 165.20 275.79C165.62 275.95 166.03 276.11 166.45 276.26C166.87 276.41 167.28 276.57 167.70 276.72C168.12 276.87 168.53 277.03 168.95 277.17C169.37 277.31 169.78 277.45 170.20 277.58C170.62 277.71 171.03 277.85 171.45 277.97C171.87 278.09 172.28 278.21 172.70 278.32C173.12 278.43 173.53 278.54 173.95 278.65C174.37 278.75 174.78 278.85 175.20 278.95C175.62 279.05 176.03 279.14 176.45 279.24C176.87 279.34 177.28 279.43 177.70 279.53C178.12 279.63 178.53 279.72 178.95 279.82C179.37 279.92 179.78 280.01 180.20 280.11C180.62 280.21 181.03 280.31 181.45 280.41C181.87 280.52 182.28 280.63 182.70 280.74C183.12 280.85 183.53 280.97 183.95 281.09C184.37 281.21 184.78 281.32 185.20 281.45C185.62 281.57 186.03 281.71 186.45 281.84C186.87 281.97 187.28 282.11 187.70 282.24C188.12 282.37 188.57 282.52 188.95 282.64C189.33 282.76 189.41 282.79 190.00 282.98C190.59 283.17 191.67 283.51 192.50 283.76C193.33 284.01 194.17 284.27 195.00 284.50C195.83 284.73 196.67 284.94 197.50 285.14C198.33 285.33 199.17 285.51 200.00 285.67C200.83 285.83 201.67 285.97 202.50 286.09C203.33 286.21 204.17 286.32 205.00 286.41C205.83 286.50 206.67 286.58 207.50 286.65C208.33 286.71 209.17 286.76 210.00 286.80C210.83 286.84 211.67 286.86 212.50 286.87C213.33 286.88 214.17 286.88 215.00 286.87C215.83 286.86 216.67 286.84 217.50 286.81C218.33 286.78 219.17 286.74 220.00 286.69C220.83 286.64 221.67 286.58 222.50 286.52C223.33 286.46 224.17 286.38 225.00 286.31C225.83 286.24 226.67 286.15 227.50 286.07C228.33 285.99 229.17 285.91 230.00 285.83C230.83 285.75 231.67 285.68 232.50 285.61C233.33 285.54 234.17 285.48 235.00 285.43C235.83 285.38 236.67 285.34 237.50 285.31C238.33 285.28 239.17 285.27 240.00 285.28C240.83 285.29 241.67 285.31 242.50 285.35C243.33 285.40 244.17 285.47 245.00 285.55C245.83 285.63 246.67 285.74 247.50 285.86C248.33 285.98 249.17 286.12 250.00 286.27C250.83 286.42 251.67 286.58 252.50 286.75C253.33 286.92 254.17 287.10 255.00 287.29C255.83 287.48 256.67 287.67 257.50 287.87C258.33 288.07 259.17 288.27 260.00 288.47C260.83 288.67 261.67 288.87 262.50 289.07C263.33 289.27 264.17 289.46 265.00 289.65C265.83 289.84 266.67 290.02 267.50 290.19C268.33 290.36 269.17 290.52 270.00 290.67C270.83 290.82 271.67 290.95 272.50 291.07C273.33 291.19 274.17 291.29 275.00 291.38C275.83 291.47 276.67 291.53 277.50 291.59C278.33 291.65 279.17 291.69 280.00 291.72C280.83 291.76 281.67 291.78 282.50 291.80C283.33 291.82 284.17 291.82 285.00 291.82C285.83 291.82 286.67 291.82 287.50 291.82C288.33 291.81 289.17 291.80 290.00 291.79C290.83 291.78 291.67 291.77 292.50 291.77C293.33 291.76 294.17 291.76 295.00 291.76C295.83 291.76 296.67 291.76 297.50 291.78C298.33 291.79 299.17 291.82 300.00 291.85C300.83 291.88 301.67 291.92 302.50 291.97C303.33 292.02 304.17 292.08 305.00 292.15C305.83 292.22 306.67 292.29 307.50 292.37C308.33 292.45 309.17 292.55 310.00 292.64C310.83 292.73 311.67 292.83 312.50 292.93C313.33 293.03 314.17 293.13 315.00 293.24C315.83 293.35 316.67 293.46 317.50 293.57C318.33 293.68 319.17 293.79 320.00 293.90C320.83 294.01 321.67 294.12 322.50 294.23C323.33 294.34 324.17 294.45 325.00 294.56C325.83 294.67 326.67 294.76 327.50 294.86C328.33 294.96 329.17 295.05 330.00 295.14C330.83 295.23 331.67 295.31 332.50 295.38C333.33 295.45 334.17 295.52 335.00 295.58C335.83 295.64 336.67 295.69 337.50 295.73C338.33 295.77 339.17 295.80 340.00 295.82C340.83 295.84 341.67 295.85 342.50 295.85C343.33 295.85 344.17 295.83 345.00 295.80C345.83 295.77 346.67 295.73 347.50 295.67C348.33 295.61 349.17 295.54 350.00 295.46C350.83 295.38 351.67 295.28 352.50 295.18C353.33 295.08 354.17 294.97 355.00 294.85C355.83 294.73 356.67 294.61 357.50 294.48C358.33 294.35 359.17 294.22 360.00 294.09C360.83 293.96 361.67 293.82 362.50 293.69C363.33 293.56 364.17 293.43 365.00 293.31C365.83 293.19 366.67 293.07 367.50 292.96C368.33 292.85 369.17 292.75 370.00 292.65C370.83 292.55 371.67 292.46 372.50 292.39C373.33 292.31 374.17 292.25 375.00 292.20C375.83 292.15 376.67 292.11 377.50 292.08C378.33 292.05 379.17 292.02 380.00 292.00C380.83 291.98 381.67 291.97 382.50 291.97C383.33 291.97 384.17 291.98 385.00 291.99C385.83 292.00 386.67 292.02 387.50 292.04C388.33 292.06 389.17 292.10 390.00 292.13C390.83 292.16 391.67 292.20 392.50 292.24C393.33 292.28 394.17 292.32 395.00 292.37C395.83 292.42 396.67 292.47 397.50 292.52C398.33 292.57 399.17 292.62 400.00 292.67C400.83 292.72 401.67 292.78 402.50 292.83C403.33 292.88 404.17 292.94 405.00 292.99C405.83 293.04 406.67 293.10 407.50 293.15C408.33 293.20 409.17 293.25 410.00 293.29C410.83 293.34 411.67 293.38 412.50 293.42C413.33 293.46 414.17 293.50 415.00 293.54C415.83 293.58 416.67 293.61 417.50 293.63C418.33 293.65 419.17 293.67 420.00 293.69C420.83 293.71 421.67 293.73 422.50 293.73C423.33 293.74 424.17 293.73 425.00 293.72C425.83 293.71 426.67 293.70 427.50 293.68C428.33 293.66 429.17 293.64 430.00 293.62C430.83 293.60 431.67 293.56 432.50 293.53C433.33 293.50 434.17 293.48 435.00 293.45C435.83 293.42 436.67 293.39 437.50 293.37C438.33 293.35 439.17 293.32 440.00 293.31C440.83 293.30 441.67 293.28 442.50 293.28C443.33 293.28 444.17 293.29 445.00 293.30C445.83 293.31 446.67 293.34 447.50 293.37C448.33 293.40 449.58 293.49 450.00 293.51" fill="none" stroke="#00ffff" stroke-width="2.3" stroke-linecap="butt" stroke-linejoin="round"/>
<path d="M75.20 359.13C75.41 359.18 76.03 359.39 76.45 359.45C76.87 359.51 77.28 359.53 77.70 359.51C78.12 359.49 78.53 359.42 78.95 359.31C79.37 359.20 79.78 359.06 80.20 358.88C80.62 358.70 81.03 358.49 81.45 358.24C81.87 357.99 82.28 357.71 82.70 357.40C83.12 357.09 83.53 356.75 83.95 356.38C84.37 356.01 84.78 355.62 85.20 355.21C85.62 354.79 86.03 354.35 86.45 353.89C86.87 353.43 87.28 352.95 87.70 352.46C88.12 351.97 88.53 351.45 88.95 350.93C89.37 350.41 89.78 349.87 90.20 349.32C90.62 348.77 91.03 348.21 91.45 347.65C91.87 347.09 92.28 346.51 92.70 345.94C93.12 345.37 93.53 344.78 93.95 344.20C94.37 343.62 94.78 343.04 95.20 342.46C95.62 341.88 96.03 341.31 96.45 340.74C96.87 340.17 97.28 339.60 97.70 339.05C98.12 338.50 98.53 337.95 98.95 337.42C99.37 336.89 99.78 336.37 100.20 335.86C100.62 335.35 101.03 334.85 101.45 334.37C101.87 333.89 102.28 333.42 102.70 332.96C103.12 332.50 103.53 332.06 103.95 331.63C104.37 331.20 104.78 330.79 105.20 330.39C105.62 329.99 106.03 329.60 106.45 329.23C106.87 328.86 107.28 328.51 107.70 328.17C108.12 327.83 108.53 327.51 108.95 327.21C109.37 326.90 109.78 326.61 110.20 326.34C110.62 326.07 111.03 325.81 111.45 325.58C111.87 325.34 112.28 325.13 112.70 324.93C113.12 324.73 113.53 324.55 113.95 324.39C114.37 324.23 114.78 324.08 115.20 323.96C115.62 323.84 116.03 323.73 116.45 323.65C116.87 323.56 117.28 323.50 117.70 323.45C118.12 323.40 118.53 323.38 118.95 323.36C119.37 323.35 119.78 323.35 120.20 323.36C120.62 323.37 121.03 323.40 121.45 323.44C121.87 323.48 122.28 323.53 122.70 323.59C123.12 323.65 123.53 323.72 123.95 323.80C124.37 323.88 124.78 323.97 125.20 324.06C125.62 324.15 126.03 324.26 126.45 324.36C126.87 324.46 127.28 324.56 127.70 324.67C128.12 324.78 128.53 324.89 128.95 325.00C129.37 325.11 129.78 325.23 130.20 325.34C130.62 325.45 131.03 325.56 131.45 325.66C131.87 325.76 132.28 325.87 132.70 325.96C133.12 326.05 133.53 326.15 133.95 326.23C134.37 326.31 134.78 326.39 135.20 326.46C135.62 326.53 136.03 326.59 136.45 326.64C136.87 326.69 137.28 326.74 137.70 326.78C138.12 326.82 138.53 326.84 138.95 326.87C139.37 326.90 139.78 326.93 140.20 326.94C140.62 326.95 141.03 326.96 141.45 326.96C141.87 326.96 142.28 326.96 142.70 326.95C143.12 326.94 143.53 326.93 143.95 326.91C144.37 326.89 144.78 326.88 145.20 326.85C145.62 326.83 146.03 326.80 146.45 326.76C146.87 326.72 147.28 326.68 147.70 326.64C148.12 326.60 148.53 326.56 148.95 326.51C149.37 326.46 149.78 326.40 150.20 326.35C150.62 326.30 151.03 326.25 151.45 326.19C151.87 326.13 152.28 326.07 152.70 326.02C153.12 325.96 153.53 325.91 153.95 325.86C154.37 325.81 154.78 325.77 155.20 325.72C155.62 325.68 156.03 325.63 156.45 325.59C156.87 325.55 157.28 325.52 157.70 325.49C158.12 325.46 158.53 325.44 158.95 325.42C159.37 325.40 159.78 325.38 160.20 325.37C160.62 325.36 161.03 325.35 161.45 325.35C161.87 325.35 162.28 325.35 162.70 325.36C163.12 325.37 163.53 325.38 163.95 325.39C164.37 325.40 164.78 325.42 165.20 325.44C165.62 325.46 166.03 325.50 166.45 325.53C166.87 325.56 167.28 325.59 167.70 325.63C168.12 325.67 168.53 325.72 168.95 325.77C169.37 325.82 169.78 325.87 170.20 325.93C170.62 325.99 171.03 326.05 171.45 326.11C171.87 326.18 172.28 326.25 172.70 326.32C173.12 326.39 173.53 326.47 173.95 326.55C174.37 326.63 174.78 326.71 175.20 326.80C175.62 326.89 176.03 326.98 176.45 327.08C176.87 327.18 177.28 327.28 177.70 327.39C178.12 327.50 178.53 327.60 178.95 327.71C179.37 327.82 179.78 327.93 180.20 328.04C180.62 328.15 181.03 328.26 181.45 328.38C181.87 328.50 182.28 328.61 182.70 328.73C183.12 328.85 183.53 328.96 183.95 329.08C184.37 329.19 184.78 329.31 185.20 329.42C185.62 329.53 186.03 329.65 186.45 329.76C186.87 329.87 187.28 329.98 187.70 330.09C188.12 330.20 188.57 330.31 188.95 330.40C189.33 330.49 189.41 330.52 190.00 330.65C190.59 330.78 191.67 331.02 192.50 331.17C193.33 331.32 194.17 331.46 195.00 331.57C195.83 331.68 196.67 331.76 197.50 331.82C198.33 331.88 199.17 331.91 200.00 331.92C200.83 331.93 201.67 331.92 202.50 331.89C203.33 331.86 204.17 331.81 205.00 331.74C205.83 331.67 206.67 331.58 207.50 331.48C208.33 331.38 209.17 331.26 210.00 331.13C210.83 331.00 211.67 330.85 212.50 330.69C213.33 330.53 214.17 330.37 215.00 330.19C215.83 330.01 216.67 329.82 217.50 329.63C218.33 329.44 219.17 329.23 220.00 329.03C220.83 328.82 221.67 328.61 222.50 328.40C223.33 328.19 224.17 327.97 225.00 327.76C225.83 327.55 226.67 327.32 227.50 327.11C228.33 326.90 229.17 326.68 230.00 326.47C230.83 326.26 231.67 326.06 232.50 325.86C233.33 325.66 234.17 325.47 235.00 325.28C235.83 325.09 236.67 324.91 237.50 324.74C238.33 324.57 239.17 324.40 240.00 324.24C240.83 324.08 241.67 323.92 242.50 323.77C243.33 323.62 244.17 323.49 245.00 323.35C245.83 323.22 246.67 323.08 247.50 322.96C248.33 322.84 249.17 322.72 250.00 322.61C250.83 322.50 251.67 322.40 252.50 322.30C253.33 322.20 254.17 322.11 255.00 322.03C255.83 321.95 256.67 321.87 257.50 321.80C258.33 321.73 259.17 321.67 260.00 321.61C260.83 321.55 261.67 321.51 262.50 321.46C263.33 321.41 264.17 321.37 265.00 321.33C265.83 321.29 266.67 321.27 267.50 321.24C268.33 321.21 269.17 321.18 270.00 321.16C270.83 321.14 271.67 321.12 272.50 321.10C273.33 321.08 274.17 321.06 275.00 321.05C275.83 321.04 276.67 321.02 277.50 321.01C278.33 321.00 279.17 320.98 280.00 320.96C280.83 320.94 281.67 320.93 282.50 320.91C283.33 320.89 284.17 320.88 285.00 320.86C285.83 320.84 286.67 320.81 287.50 320.78C288.33 320.75 289.17 320.72 290.00 320.69C290.83 320.66 291.67 320.62 292.50 320.58C293.33 320.54 294.17 320.51 295.00 320.47C295.83 320.43 296.67 320.39 297.50 320.35C298.33 320.31 299.17 320.28 300.00 320.24C300.83 320.20 301.67 320.17 302.50 320.13C303.33 320.09 304.17 320.06 305.00 320.03C305.83 320.00 306.67 319.97 307.50 319.95C308.33 319.93 309.17 319.90 310.00 319.89C310.83 319.88 311.67 319.87 312.50 319.86C313.33 319.85 314.17 319.85 315.00 319.85C315.83 319.85 316.67 319.87 317.50 319.88C318.33 319.89 319.17 319.91 320.00 319.93C320.83 319.95 321.67 319.97 322.50 320.00C323.33 320.03 324.17 320.06 325.00 320.09C325.83 320.12 326.67 320.16 327.50 320.20C328.33 320.24 329.17 320.28 330.00 320.32C330.83 320.36 331.67 320.41 332.50 320.45C333.33 320.49 334.17 320.54 335.00 320.58C335.83 320.62 336.67 320.67 337.50 320.71C338.33 320.75 339.17 320.80 340.00 320.84C340.83 320.88 341.67 320.93 342.50 320.97C343.33 321.01 344.17 321.04 345.00 321.08C345.83 321.12 346.67 321.15 347.50 321.19C348.33 321.23 349.17 321.26 350.00 321.29C350.83 321.32 351.67 321.35 352.50 321.38C353.33 321.41 354.17 321.43 355.00 321.46C355.83 321.49 356.67 321.52 357.50 321.54C358.33 321.56 359.17 321.58 360.00 321.60C360.83 321.62 361.67 321.64 362.50 321.66C363.33 321.68 364.17 321.69 365.00 321.70C365.83 321.71 366.67 321.73 367.50 321.74C368.33 321.75 369.17 321.75 370.00 321.76C370.83 321.76 371.67 321.77 372.50 321.77C373.33 321.77 374.17 321.77 375.00 321.77C375.83 321.77 376.67 321.76 377.50 321.76C378.33 321.75 379.17 321.75 380.00 321.74C380.83 321.73 381.67 321.71 382.50 321.70C383.33 321.69 384.17 321.68 385.00 321.66C385.83 321.64 386.67 321.61 387.50 321.59C388.33 321.57 389.17 321.55 390.00 321.52C390.83 321.49 391.67 321.46 392.50 321.43C393.33 321.40 394.17 321.37 395.00 321.33C395.83 321.29 396.67 321.25 397.50 321.21C398.33 321.17 399.17 321.13 400.00 321.09C400.83 321.05 401.67 321.01 402.50 320.97C403.33 320.93 404.17 320.90 405.00 320.86C405.83 320.82 406.67 320.78 407.50 320.75C408.33 320.72 409.17 320.69 410.00 320.66C410.83 320.63 411.67 320.61 412.50 320.59C413.33 320.57 414.17 320.55 415.00 320.54C415.83 320.53 416.67 320.53 417.50 320.53C418.33 320.53 419.17 320.54 420.00 320.55C420.83 320.56 421.67 320.58 422.50 320.61C423.33 320.64 424.17 320.67 425.00 320.71C425.83 320.75 426.67 320.78 427.50 320.82C428.33 320.86 429.17 320.89 430.00 320.93C430.83 320.97 431.67 321.01 432.50 321.04C433.33 321.07 434.17 321.11 435.00 321.13C435.83 321.15 436.67 321.18 437.50 321.19C438.33 321.20 439.17 321.21 440.00 321.20C440.83 321.19 441.67 321.18 442.50 321.15C443.33 321.12 444.17 321.08 445.00 321.02C445.83 320.96 446.67 320.89 447.50 320.81C448.33 320.73 449.58 320.56 450.00 320.51" fill="none" stroke="#800080" stroke-width="2.3" stroke-linecap="butt" stroke-linejoin="round"/>
</g>
<path d="M76.30 382.2 v-3.6 M76.30 33.6 v3.6 M169.42 382.2 v-3.6 M169.42 33.6 v3.6 M262.54 382.2 v-3.6 M262.54 33.6 v3.6 M355.66 382.2 v-3.6 M355.66 33.6 v3.6 M448.78 382.2 v-3.6 M448.78 33.6 v3.6 M68.75 370.40 h3.6 M456.55 370.40 h-3.6 M68.75 310.30 h3.6 M456.55 310.30 h-3.6 M68.75 250.20 h3.6 M456.55 250.20 h-3.6 M68.75 190.10 h3.6 M456.55 190.10 h-3.6 M68.75 130.00 h3.6 M456.55 130.00 h-3.6 M68.75 69.90 h3.6 M456.55 69.90 h-3.6" stroke="#1a1a1a" stroke-width="0.85" fill="none"/>
<path d="M94.92 382.2 v-2.1 M94.92 33.6 v2.1 M113.55 382.2 v-2.1 M113.55 33.6 v2.1 M132.17 382.2 v-2.1 M132.17 33.6 v2.1 M150.80 382.2 v-2.1 M150.80 33.6 v2.1 M188.04 382.2 v-2.1 M188.04 33.6 v2.1 M206.67 382.2 v-2.1 M206.67 33.6 v2.1 M225.29 382.2 v-2.1 M225.29 33.6 v2.1 M243.92 382.2 v-2.1 M243.92 33.6 v2.1 M281.16 382.2 v-2.1 M281.16 33.6 v2.1 M299.79 382.2 v-2.1 M299.79 33.6 v2.1 M318.41 382.2 v-2.1 M318.41 33.6 v2.1 M337.04 382.2 v-2.1 M337.04 33.6 v2.1 M374.28 382.2 v-2.1 M374.28 33.6 v2.1 M392.91 382.2 v-2.1 M392.91 33.6 v2.1 M411.53 382.2 v-2.1 M411.53 33.6 v2.1 M430.16 382.2 v-2.1 M430.16 33.6 v2.1 M68.75 358.38 h2.1 M456.55 358.38 h-2.1 M68.75 346.36 h2.1 M456.55 346.36 h-2.1 M68.75 334.34 h2.1 M456.55 334.34 h-2.1 M68.75 322.32 h2.1 M456.55 322.32 h-2.1 M68.75 298.28 h2.1 M456.55 298.28 h-2.1 M68.75 286.26 h2.1 M456.55 286.26 h-2.1 M68.75 274.24 h2.1 M456.55 274.24 h-2.1 M68.75 262.22 h2.1 M456.55 262.22 h-2.1 M68.75 238.18 h2.1 M456.55 238.18 h-2.1 M68.75 226.16 h2.1 M456.55 226.16 h-2.1 M68.75 214.14 h2.1 M456.55 214.14 h-2.1 M68.75 202.12 h2.1 M456.55 202.12 h-2.1 M68.75 178.08 h2.1 M456.55 178.08 h-2.1 M68.75 166.06 h2.1 M456.55 166.06 h-2.1 M68.75 154.04 h2.1 M456.55 154.04 h-2.1 M68.75 142.02 h2.1 M456.55 142.02 h-2.1 M68.75 117.98 h2.1 M456.55 117.98 h-2.1 M68.75 105.96 h2.1 M456.55 105.96 h-2.1 M68.75 93.94 h2.1 M456.55 93.94 h-2.1 M68.75 81.92 h2.1 M456.55 81.92 h-2.1 M68.75 57.88 h2.1 M456.55 57.88 h-2.1 M68.75 45.86 h2.1 M456.55 45.86 h-2.1 M68.75 33.84 h2.1 M456.55 33.84 h-2.1" stroke="#2a2a2a" stroke-width="0.6" fill="none"/>
<rect x="68.75" y="33.6" width="387.80" height="348.60" fill="none" stroke="#000" stroke-width="1.35"/>
<g id="txt">
<g font-size="23" text-anchor="middle">
<text x="76.3" y="406.2">0</text>
<text x="169.4" y="406.2">1</text>
<text x="262.5" y="406.2">2</text>
<text x="355.7" y="406.2">3</text>
<text x="448.8" y="406.2">4</text>
</g>
<g font-size="23" text-anchor="end">
<text x="63.9" y="377.8">0.0</text>
<text x="63.9" y="317.7">0.1</text>
<text x="63.9" y="257.6">0.2</text>
<text x="63.9" y="197.5">0.3</text>
<text x="63.9" y="137.4">0.4</text>
<text x="63.9" y="77.3">0.5</text>
</g>
<text id="title" x="166.3" y="20.4" font-size="23" xml:space="preserve">Samples</text>
<text id="title2" x="269.5" y="20.4" font-size="23" letter-spacing="0.12" class="it">s=30000</text>
<g id="xlab" font-size="23">
<text x="193.1" y="441.6" letter-spacing="0.4">Time</text>
<text x="258.3" y="441.6" class="it">t</text>
<text x="270.6" y="441.6" font-size="22">[</text>
<text x="278.8" y="441.6" class="it" font-size="21">ω</text>
<text x="294.9" y="445.3" font-size="16.5">0</text>
<text x="305.3" y="432.1" font-size="16.5">−</text>
<text x="313.6" y="431.4" font-size="16.5">1</text>
<text x="324.8" y="441.6" font-size="22">]</text>
</g>
<text id="ylab" transform="translate(20.8,354.1) rotate(-90)" font-size="23" xml:space="preserve"><tspan letter-spacing="-0.05">Occupancy Number  </tspan><tspan class="it">N</tspan><tspan class="it" font-size="16" dy="3.3">i</tspan><tspan dy="-3.3" dx="1.9" font-size="22"> [</tspan><tspan class="it" dx="1.5">N</tspan><tspan font-size="16" dy="2.4" dx="-1.4" letter-spacing="1.0">tot</tspan><tspan dy="-2.4" dx="-0.2" font-size="22">]</tspan></text>
</g>
</svg>
</body></html>
